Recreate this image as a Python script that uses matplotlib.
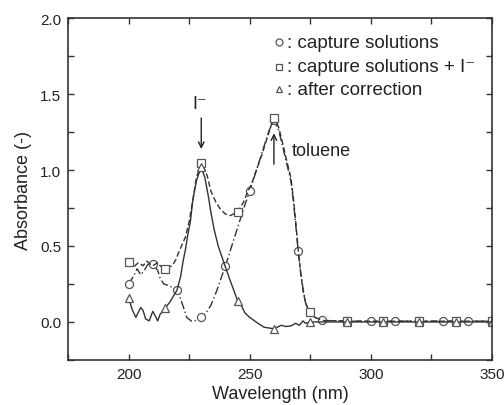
import numpy as np
import matplotlib.pyplot as plt
from matplotlib.ticker import MultipleLocator

plt.rcParams['font.family'] = ['Liberation Sans', 'DejaVu Sans']

# capture solutions (circles)
wl_cap = [200, 202, 203.5, 205, 206.5, 208, 210, 212, 213, 214.5, 216.5, 220, 221.5,
          223, 224, 226, 228, 230, 232, 234, 236.5, 238, 240, 242, 244, 246, 248, 250,
          252, 254, 256, 258, 260, 262, 264, 265, 267, 268, 269, 270, 271, 272, 273,
          274, 276, 278, 280, 290, 300, 310, 320, 330, 340, 350]
abs_cap = [0.25, 0.30, 0.35, 0.31, 0.34, 0.38, 0.38, 0.34, 0.29, 0.25, 0.24, 0.21, 0.15,
           0.08, 0.03, 0.005, 0.01, 0.03, 0.06, 0.11, 0.21, 0.28, 0.37, 0.47, 0.57, 0.67,
           0.77, 0.86, 0.96, 1.06, 1.16, 1.26, 1.33, 1.26, 1.13, 1.06, 0.93, 0.80, 0.64,
           0.47, 0.33, 0.22, 0.13, 0.08, 0.04, 0.02, 0.01, 0.005, 0.005, 0.005, 0.005,
           0.005, 0.005, 0.005]
mk_cap = [200, 210, 220, 230, 240, 250, 260, 270, 280, 290, 300, 310, 320, 330, 340, 350]

# capture solutions + I- (squares)
wl_iod = [200, 202, 204, 206, 207.5, 209, 210, 212, 213, 215, 218, 219.5, 221, 223.5,
          225, 226.5, 228, 230, 231, 232.5, 234, 236, 238, 240, 242, 245, 247.5, 249,
          251, 253, 255, 257, 259, 260, 262, 264, 265, 267, 268, 269, 270, 271, 272,
          273, 274, 275, 277, 280, 290, 305, 320, 335, 350]
abs_iod = [0.395, 0.36, 0.39, 0.37, 0.40, 0.38, 0.37, 0.39, 0.37, 0.35, 0.37, 0.41, 0.47,
           0.56, 0.66, 0.80, 0.95, 1.045, 1.02, 0.96, 0.86, 0.79, 0.74, 0.71, 0.70, 0.725,
           0.79, 0.85, 0.92, 1.01, 1.10, 1.20, 1.30, 1.345, 1.28, 1.15, 1.08, 0.95, 0.82,
           0.66, 0.48, 0.33, 0.21, 0.13, 0.09, 0.066, 0.03, 0.01, 0.005, 0.005, 0.005,
           0.005, 0.005]
mk_iod = [200, 215, 230, 245, 260, 275, 290, 305, 320, 335, 350]

# after correction (triangles)
wl_cor = [200, 201.5, 203, 205, 206, 207, 208.5, 210, 211, 212, 213, 215, 217, 218.5,
          220, 221.5, 222.5, 223.5, 224.5, 225.5, 226.5, 228, 230, 231.5, 233, 234,
          235.3, 237, 240, 242, 245, 246.5, 248, 250, 252, 254, 256, 258, 260, 263, 265,
          267, 269, 270.5, 272, 273, 275, 280, 290, 305, 320, 335, 350]
abs_cor = [0.16, 0.08, 0.03, 0.095, 0.075, 0.02, 0.007, 0.07, 0.04, 0.007, 0.05, 0.09,
           0.13, 0.17, 0.21, 0.30, 0.40, 0.48, 0.58, 0.66, 0.80, 0.93, 1.02, 0.95, 0.82,
           0.72, 0.61, 0.50, 0.36, 0.27, 0.14, 0.11, 0.06, 0.03, 0.007, -0.015, -0.035,
           -0.04, -0.045, -0.022, -0.03, -0.026, -0.009, -0.022, 0.007, -0.009, 0.0, 0.0,
           0.0, 0.0, 0.0, 0.0, 0.0]
mk_cor = [200, 215, 230, 245, 260, 275, 290, 305, 320, 335, 350]

series = [
    (wl_cap, abs_cap, mk_cap, 'o', (0, (6, 2, 1, 2))),
    (wl_iod, abs_iod, mk_iod, 's', (0, (4, 2))),
    (wl_cor, abs_cor, mk_cor, '^', '-'),
]

fig = plt.figure(figsize=(5.04, 4.06), dpi=100)
ax = fig.add_axes([0.135, 0.111, 0.841, 0.842])

lc = '#333333'
for wl, a, mk, m, ls in series:
    wl = np.array(wl)
    idx = list(np.where(np.isin(wl, mk))[0])
    ax.plot(wl, a, color=lc, lw=1.0, ls=ls, marker=m, markevery=idx,
            ms=5.8, mfc='white', mec='#555555', mew=0.9)

ax.set_xlim(175, 350)
ax.set_ylim(-0.25, 2.0)
ax.xaxis.set_major_locator(MultipleLocator(50))
ax.xaxis.set_minor_locator(MultipleLocator(25))
ax.yaxis.set_major_locator(MultipleLocator(0.5))
ax.yaxis.set_minor_locator(MultipleLocator(0.25))
ax.yaxis.set_major_formatter(plt.FormatStrFormatter('%.1f'))
ax.tick_params(which='both', direction='in', top=True, right=True, color='#333333',
               width=1.0, labelsize=11, labelcolor='#222222')
ax.tick_params(which='major', length=4.5, pad=5)
ax.tick_params(which='minor', length=4.5)
for s in ax.spines.values():
    s.set_linewidth(1.2)
    s.set_color('#333333')

ax.set_xlabel('Wavelength (nm)', fontsize=13, color='#222222', labelpad=3)
ax.set_ylabel('Absorbance (-)', fontsize=13, color='#222222', labelpad=6)

# legend-like labels
leg_y = [1.84, 1.68, 1.53]
leg_txt = [': capture solutions', ': capture solutions + I\u207b', ': after correction']
leg_mk = ['o', 's', '^']
for yy, t, m in zip(leg_y, leg_txt, leg_mk):
    ax.plot([262.2], [yy], marker=m, ms=5, mfc='white', mec='#555555', mew=0.9, ls='none')
    ax.text(265.5, yy, t, fontsize=13.5, va='center', ha='left', color='#222222')

# annotations
ax.text(229.5, 1.44, 'I\u207b', fontsize=13, ha='center', va='center', color='#222222')
ax.annotate('', xy=(230, 1.12), xytext=(230, 1.36),
            arrowprops=dict(arrowstyle='->', color='#222222', lw=1.0))
ax.annotate('', xy=(260, 1.26), xytext=(260, 1.02),
            arrowprops=dict(arrowstyle='->', color='#222222', lw=1.0))
ax.text(267.5, 1.13, 'toluene', fontsize=13, ha='left', va='center', color='#222222')

fig.savefig('out.png', dpi=100)
